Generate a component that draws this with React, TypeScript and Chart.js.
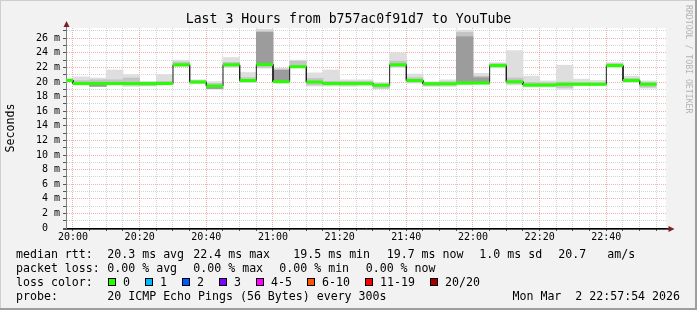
import React, { useEffect, useRef } from 'react';
import { Chart, registerables } from 'chart.js';

Chart.register(...registerables);

const FONT = "'DejaVu Sans Mono', monospace";

// ---------------- text ----------------
const TITLE = 'Last 3 Hours from b757ac0f91d7 to YouTube';
const Y_TITLE = 'Seconds';
const WATERMARK = 'RRDTOOL / TOBI OETIKER';

const RANGE_START = '19:57:54';
const RANGE_END = '22:57:54';

const X_TICK_LABELS = ['20:00', '20:20', '20:40', '21:00', '21:20', '21:40', '22:00', '22:20', '22:40'];
const Y_TICK_LABELS = ['0  ', '2 m', '4 m', '6 m', '8 m', '10 m', '12 m', '14 m', '16 m', '18 m', '20 m', '22 m', '24 m', '26 m'];
const Y_MAX = 27.4;

// ---------------- data (ms) ----------------
// end time of each 300s step
const STEP_END = [
  '20:00', '20:05', '20:10', '20:15', '20:20', '20:25', '20:30', '20:35', '20:40',
  '20:45', '20:50', '20:55', '21:00', '21:05', '21:10', '21:15', '21:20', '21:25',
  '21:30', '21:35', '21:40', '21:45', '21:50', '21:55', '22:00', '22:05', '22:10',
  '22:15', '22:20', '22:25', '22:30', '22:35', '22:40', '22:45', '22:50', '22:55',
];
const MEDIAN = [
  20.25, 19.8, 19.8, 19.8, 19.8, 19.8, 19.8, 22.35, 20.0,
  19.45, 22.35, 20.2, 22.4, 20.05, 22.1, 20.0, 19.8, 19.8,
  19.8, 19.55, 22.35, 20.2, 19.75, 19.75, 19.85, 19.85, 22.25,
  20.05, 19.6, 19.6, 19.7, 19.7, 19.7, 22.25, 20.2, 19.7,
];
// outer smoke (min / max ping)
const SMOKE_LO = [
  20.0, 19.6, 19.45, 19.6, 19.4, 19.45, 19.65, 22.1, 19.75,
  19.0, 22.0, 19.9, 21.9, 19.9, 21.95, 19.45, 19.45, 19.4,
  19.45, 19.05, 22.0, 19.85, 19.4, 19.4, 19.6, 19.7, 21.95,
  19.6, 19.3, 19.3, 19.0, 19.55, 19.55, 22.0, 19.95, 19.15,
];
const SMOKE_HI = [
  20.4, 20.7, 20.55, 21.65, 21.0, 20.1, 21.0, 23.0, 20.3,
  20.05, 23.35, 21.3, 27.25, 21.9, 23.0, 21.25, 21.65, 20.3,
  20.3, 19.9, 24.0, 21.1, 20.05, 20.3, 27.1, 21.2, 22.65,
  24.3, 20.8, 20.15, 22.3, 20.4, 20.2, 22.65, 20.8, 20.15,
];
// inner smoke
const MID_LO = [
  20.1, 19.7, 19.45, 19.7, 19.55, 19.5, 19.7, 22.2, 19.85,
  19.15, 22.15, 20.0, 22.0, 19.95, 22.0, 19.6, 19.6, 19.55,
  19.6, 19.15, 22.1, 19.95, 19.5, 19.55, 19.7, 19.8, 22.05,
  19.75, 19.4, 19.4, 19.25, 19.6, 19.6, 22.1, 20.05, 19.3,
];
const MID_HI = [
  20.35, 20.2, 20.3, 20.3, 20.55, 19.95, 20.1, 22.75, 20.2,
  19.8, 22.7, 20.6, 27.0, 21.75, 22.85, 20.5, 20.1, 20.1,
  20.1, 19.75, 22.85, 20.6, 19.95, 20.05, 26.8, 20.8, 22.5,
  20.55, 19.95, 19.9, 20.0, 19.95, 19.9, 22.5, 20.5, 19.95,
];
// dark core of the smoke
const CORE_LO = [
  null, null, 19.4, null, null, null, null, null, null,
  19.1, null, null, 22.3, 20.1, null, null, null, null,
  null, null, null, null, null, null, 19.95, 19.9, null,
  null, null, null, null, null, null, null, null, null,
];
const CORE_HI = [
  null, null, 19.55, null, null, null, null, null, null,
  19.35, null, null, 26.8, 21.6, null, null, null, null,
  null, null, null, null, null, null, 26.2, 20.6, null,
  null, null, null, null, null, null, null, null, null,
];

// ---------------- legend ----------------
const RTT_LABEL = 'median rtt:';
const RTT_ITEMS = ['20.3 ms avg', '22.4 ms max', '19.5 ms min', '19.7 ms now', '1.0 ms sd', '20.7', 'am/s'];
const LOSS_LABEL = 'packet loss:';
const LOSS_ITEMS = ['0.00 % avg', '0.00 % max', '0.00 % min', '0.00 % now'];
const COLOR_LABEL = 'loss color:';
const LOSS_BUCKETS = ['0', '1', '2', '3', '4-5', '6-10', '11-19', '20/20'];
const LOSS_COLORS = ['#26ff00', '#00b8ff', '#0059ff', '#7e00ff', '#ff00ff', '#ff5500', '#ff0000', '#a00000'];
const PROBE_LABEL = 'probe:';
const PROBE_TEXT = '20 ICMP Echo Pings (56 Bytes) every 300s';
const DATE_TEXT = 'Mon Mar  2 22:57:54 2026';

// ---------------- helpers ----------------
const toMin = (s: string) => {
  const p = s.split(':').map(Number);
  return p[0] * 60 + p[1] + (p[2] || 0) / 60 - 20 * 60;
};
const STEP_MIN = 5;

const END_MIN = STEP_END.map(toMin);

const barData = (lo: (number | null)[], hi: (number | null)[]) =>
  END_MIN.map((e, i) => ({
    x: e - STEP_MIN / 2,
    y: lo[i] == null || hi[i] == null ? null : [lo[i] as number, hi[i] as number],
  }));

const blackPts: { x: number; y: number | null }[] = [];
const greenPts: { x: number; y: number | null }[] = [];
END_MIN.forEach((e, i) => {
  blackPts.push({ x: e - STEP_MIN, y: MEDIAN[i] }, { x: e, y: MEDIAN[i] });
  greenPts.push({ x: e - STEP_MIN, y: MEDIAN[i] }, { x: e, y: MEDIAN[i] }, { x: e, y: null });
});

const MAJOR_GRID = 'rgba(235, 110, 110, 0.55)';
const MINOR_GRID = 'rgba(160, 160, 160, 0.45)';

const rrdPlugin = {
  id: 'rrdDecor',
  beforeDraw(chart: any) {
    const { ctx, width, height, chartArea: a } = chart;
    ctx.save();
    ctx.fillStyle = '#f2f2f2';
    ctx.fillRect(0, 0, width, height);
    // shade borders
    ctx.fillStyle = '#cfcfcf';
    ctx.fillRect(0, 0, width, 1);
    ctx.fillRect(0, 0, 1, height);
    ctx.fillStyle = '#9e9e9e';
    ctx.fillRect(width - 2, 0, 2, height);
    ctx.fillRect(0, height - 2, width, 2);
    ctx.fillStyle = '#ffffff';
    ctx.fillRect(a.left, a.top, a.right - a.left, a.bottom - a.top);
    ctx.restore();
  },
  afterDraw(chart: any) {
    const { ctx, chartArea: a } = chart;
    ctx.save();
    // axis extensions + arrows
    ctx.strokeStyle = '#1f1f1f';
    ctx.lineWidth = 1;
    ctx.beginPath();
    ctx.moveTo(a.right, a.bottom + 0.5);
    ctx.lineTo(669, a.bottom + 0.5);
    ctx.stroke();
    ctx.strokeStyle = 'rgba(31,31,31,0.75)';
    ctx.beginPath();
    ctx.moveTo(a.left - 3, a.bottom + 1.5);
    ctx.lineTo(669, a.bottom + 1.5);
    ctx.stroke();
    ctx.strokeStyle = '#808080';
    ctx.beginPath();
    ctx.moveTo(a.left + 0.5, a.top);
    ctx.lineTo(a.left + 0.5, 25);
    ctx.stroke();
    ctx.fillStyle = '#801f1f';
    ctx.beginPath();
    ctx.moveTo(a.left + 0.5, 21);
    ctx.lineTo(a.left + 3.5, 27);
    ctx.lineTo(a.left - 2.5, 27);
    ctx.closePath();
    ctx.fill();
    ctx.beginPath();
    ctx.moveTo(674.5, a.bottom + 1);
    ctx.lineTo(668.5, a.bottom - 2);
    ctx.lineTo(668.5, a.bottom + 4);
    ctx.closePath();
    ctx.fill();

    // watermark
    ctx.save();
    ctx.translate(688.5, 5);
    ctx.rotate(Math.PI / 2);
    ctx.font = `8.2px ${FONT}`;
    ctx.fillStyle = '#b4b4b4';
    ctx.textAlign = 'left';
    ctx.textBaseline = 'middle';
    ctx.fillText(WATERMARK, 0, 0);
    ctx.restore();

    // legend
    ctx.font = `11.6px ${FONT}`;
    ctx.fillStyle = '#000';
    ctx.textAlign = 'left';
    ctx.textBaseline = 'alphabetic';
    const rows = [257.5, 271.5, 285.5, 299.5];
    const col0 = 16;
    ctx.fillText(RTT_LABEL, col0, rows[0]);
    const rttX = [107.3, 193.3, 293.3, 386.7, 479.3, 558.3, 607.3];
    RTT_ITEMS.forEach((t, i) => ctx.fillText(t, rttX[i], rows[0]));
    ctx.fillText(LOSS_LABEL, col0, rows[1]);
    const lossX = [107.3, 193.3, 279.3, 365.7];
    LOSS_ITEMS.forEach((t, i) => ctx.fillText(t, lossX[i], rows[1]));
    ctx.fillText(COLOR_LABEL, col0, rows[2]);
    const boxX = [108, 145, 182, 219, 256, 307, 365, 430];
    LOSS_BUCKETS.forEach((t, i) => {
      const bx = boxX[i];
      ctx.fillStyle = LOSS_COLORS[i];
      ctx.fillRect(bx, 278, 8, 8);
      ctx.strokeStyle = '#000';
      ctx.lineWidth = 1;
      ctx.strokeRect(bx + 0.5, 278.5, 7, 7);
      ctx.fillStyle = '#000';
      ctx.fillText(t, bx + 15, rows[2]);
    });
    ctx.fillText(PROBE_LABEL, col0, rows[3]);
    ctx.fillText(PROBE_TEXT, 107.3, rows[3]);
    ctx.textAlign = 'right';
    ctx.fillText(DATE_TEXT, 680, rows[3]);
    ctx.restore();
  },
};

export default function App() {
  const ref = useRef<HTMLCanvasElement>(null);
  useEffect(() => {
    const canvas = ref.current;
    if (!canvas) return;
    const barCommon = {
      type: 'bar' as const,
      grouped: false,
      barPercentage: 1,
      categoryPercentage: 1,
      borderWidth: 0,
      clip: 0,
      xAxisID: 'x',
      yAxisID: 'y',
    };
    const chart = new Chart(canvas, {
      type: 'line',
      data: {
        datasets: [
          { ...barCommon, label: 'smoke outer', data: barData(SMOKE_LO, SMOKE_HI), backgroundColor: '#dedede', order: 6 },
          { ...barCommon, label: 'smoke inner', data: barData(MID_LO, MID_HI), backgroundColor: '#c4c4c4', order: 5 },
          { ...barCommon, label: 'smoke core', data: barData(CORE_LO, CORE_HI), backgroundColor: '#9c9c9c', order: 4 },
          {
            type: 'line', label: 'median', data: blackPts, borderColor: '#202020', borderWidth: 1,
            pointRadius: 0, tension: 0, clip: 0, xAxisID: 'x', yAxisID: 'y', order: 2,
          },
          {
            type: 'line', label: 'loss 0', data: greenPts, borderColor: LOSS_COLORS[0], borderWidth: 3,
            pointRadius: 0, tension: 0, spanGaps: false, borderCapStyle: 'butt', clip: 0,
            xAxisID: 'x', yAxisID: 'y', order: 1,
          },
        ] as any,
      },
      options: {
        responsive: false,
        animation: false,
        devicePixelRatio: 1,
        events: [],
        layout: { padding: 0 },
        plugins: {
          legend: { display: false },
          tooltip: { enabled: false },
          title: {
            display: true,
            text: TITLE,
            color: '#000',
            font: { family: FONT, size: 13.2, weight: 'normal', lineHeight: 1 },
            padding: { top: 12.8, bottom: 2 },
          },
        },
        scales: {
          x: {
            type: 'linear',
            position: 'bottom',
            min: toMin(RANGE_START),
            max: toMin(RANGE_END),
            bounds: 'data',
            offset: false,
            afterFit: (s: any) => { s.height = 82; },
            afterBuildTicks: (s: any) => {
              s.ticks = END_MIN.map((v) => ({ value: v }));
            },
            ticks: {
              autoSkip: false,
              maxRotation: 0,
              minRotation: 0,
              padding: 0,
              color: '#000',
              font: { family: FONT, size: 10 },
              callback: (v: any) => {
                const n = Number(v);
                return n % 20 === 0 ? X_TICK_LABELS[n / 20] ?? '' : '';
              },
            },
            grid: {
              offset: false,
              color: (c: any) => (c.tick && c.tick.value % 20 === 0 ? MAJOR_GRID : MINOR_GRID),
              tickColor: '#555',
              tickLength: 3,
            },
            border: { display: true, color: '#000', width: 1, dash: [1, 1] },
          },
          y: {
            type: 'linear',
            position: 'left',
            min: 0,
            max: Y_MAX,
            bounds: 'data',
            afterFit: (s: any) => { s.width = 66; },
            afterBuildTicks: (s: any) => {
              const t: { value: number }[] = [];
              for (let v = 0; v <= Math.floor(Y_MAX); v++) t.push({ value: v });
              s.ticks = t;
            },
            ticks: {
              autoSkip: false,
              padding: 3,
              color: '#000',
              font: { family: FONT, size: 10 },
              callback: (v: any) => {
                const n = Number(v);
                return n % 2 === 0 ? Y_TICK_LABELS[n / 2] ?? '' : '';
              },
            },
            grid: {
              color: (c: any) => (c.tick && c.tick.value % 2 === 0 ? MAJOR_GRID : MINOR_GRID),
              tickColor: '#555',
              tickLength: 3,
            },
            border: { display: true, color: '#808080', width: 1, dash: [1, 1] },
            title: {
              display: true,
              text: Y_TITLE,
              color: '#000',
              font: { family: FONT, size: 11.6, lineHeight: 1 },
              padding: { top: 4.7, bottom: 0 },
            },
          },
          yR: {
            type: 'linear',
            position: 'right',
            display: true,
            afterFit: (s: any) => { s.width = 31; },
            ticks: { display: false },
            grid: { display: false },
            border: { display: false },
          },
        },
      } as any,
      plugins: [rrdPlugin],
    });
    return () => chart.destroy();
  }, []);
  return (
    <div style={{ position: 'fixed', left: 0, top: 0, width: 697, height: 310 }}>
      <canvas ref={ref} width={697} height={310} style={{ display: 'block', width: 697, height: 310 }} />
    </div>
  );
}
